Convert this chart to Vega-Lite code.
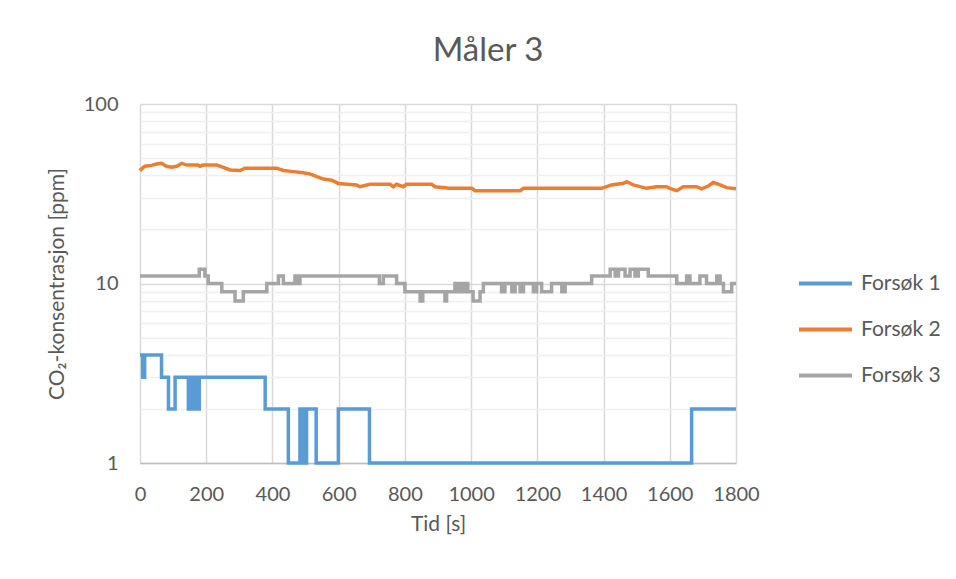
{
  "$schema": "https://vega.github.io/schema/vega-lite/v6.json",
  "width": 596,
  "height": 359,
  "autosize": {"type": "none"},
  "padding": {"left": 140, "top": 104, "right": 220, "bottom": 116},
  "background": "white",
  "title": {
    "text": "Måler 3",
    "font": "Lato",
    "fontSize": 33,
    "fontWeight": "normal",
    "color": "#595959",
    "anchor": "middle",
    "dx": 50,
    "offset": 26
  },
  "config": {
    "view": {"stroke": null},
    "font": "Lato"
  },
  "data": {
    "values": [
      {"t": 0, "ppm": 4, "serie": "Forsøk 1"},
      {"t": 8, "ppm": 3, "serie": "Forsøk 1"},
      {"t": 14, "ppm": 4, "serie": "Forsøk 1"},
      {"t": 65, "ppm": 3, "serie": "Forsøk 1"},
      {"t": 86, "ppm": 2, "serie": "Forsøk 1"},
      {"t": 106, "ppm": 3, "serie": "Forsøk 1"},
      {"t": 146, "ppm": 2, "serie": "Forsøk 1"},
      {"t": 150, "ppm": 3, "serie": "Forsøk 1"},
      {"t": 155, "ppm": 2, "serie": "Forsøk 1"},
      {"t": 160, "ppm": 3, "serie": "Forsøk 1"},
      {"t": 165, "ppm": 2, "serie": "Forsøk 1"},
      {"t": 170, "ppm": 3, "serie": "Forsøk 1"},
      {"t": 175, "ppm": 2, "serie": "Forsøk 1"},
      {"t": 179, "ppm": 3, "serie": "Forsøk 1"},
      {"t": 378, "ppm": 2, "serie": "Forsøk 1"},
      {"t": 448, "ppm": 1, "serie": "Forsøk 1"},
      {"t": 483, "ppm": 2, "serie": "Forsøk 1"},
      {"t": 487, "ppm": 1, "serie": "Forsøk 1"},
      {"t": 491, "ppm": 2, "serie": "Forsøk 1"},
      {"t": 497, "ppm": 1, "serie": "Forsøk 1"},
      {"t": 503, "ppm": 2, "serie": "Forsøk 1"},
      {"t": 532, "ppm": 1, "serie": "Forsøk 1"},
      {"t": 599, "ppm": 2, "serie": "Forsøk 1"},
      {"t": 693, "ppm": 1, "serie": "Forsøk 1"},
      {"t": 1666, "ppm": 2, "serie": "Forsøk 1"},
      {"t": 1800, "ppm": 2, "serie": "Forsøk 1"},

      {"t": 0, "ppm": 42.5, "serie": "Forsøk 2"},
      {"t": 5, "ppm": 43.5, "serie": "Forsøk 2"},
      {"t": 15, "ppm": 45, "serie": "Forsøk 2"},
      {"t": 35, "ppm": 45.5, "serie": "Forsøk 2"},
      {"t": 50, "ppm": 46.3, "serie": "Forsøk 2"},
      {"t": 65, "ppm": 46.7, "serie": "Forsøk 2"},
      {"t": 80, "ppm": 45, "serie": "Forsøk 2"},
      {"t": 96, "ppm": 44.4, "serie": "Forsøk 2"},
      {"t": 111, "ppm": 45, "serie": "Forsøk 2"},
      {"t": 126, "ppm": 46.7, "serie": "Forsøk 2"},
      {"t": 141, "ppm": 45.7, "serie": "Forsøk 2"},
      {"t": 175, "ppm": 45.7, "serie": "Forsøk 2"},
      {"t": 181, "ppm": 45, "serie": "Forsøk 2"},
      {"t": 190, "ppm": 45.7, "serie": "Forsøk 2"},
      {"t": 232, "ppm": 45.7, "serie": "Forsøk 2"},
      {"t": 252, "ppm": 44.4, "serie": "Forsøk 2"},
      {"t": 272, "ppm": 42.9, "serie": "Forsøk 2"},
      {"t": 302, "ppm": 42.6, "serie": "Forsøk 2"},
      {"t": 317, "ppm": 43.9, "serie": "Forsøk 2"},
      {"t": 413, "ppm": 43.9, "serie": "Forsøk 2"},
      {"t": 433, "ppm": 42.6, "serie": "Forsøk 2"},
      {"t": 463, "ppm": 42, "serie": "Forsøk 2"},
      {"t": 493, "ppm": 41.4, "serie": "Forsøk 2"},
      {"t": 513, "ppm": 40.8, "serie": "Forsøk 2"},
      {"t": 534, "ppm": 39.4, "serie": "Forsøk 2"},
      {"t": 554, "ppm": 38.2, "serie": "Forsøk 2"},
      {"t": 579, "ppm": 37.6, "serie": "Forsøk 2"},
      {"t": 599, "ppm": 36.1, "serie": "Forsøk 2"},
      {"t": 654, "ppm": 35.4, "serie": "Forsøk 2"},
      {"t": 664, "ppm": 34.6, "serie": "Forsøk 2"},
      {"t": 695, "ppm": 35.7, "serie": "Forsøk 2"},
      {"t": 755, "ppm": 35.7, "serie": "Forsøk 2"},
      {"t": 765, "ppm": 34.6, "serie": "Forsøk 2"},
      {"t": 775, "ppm": 35.7, "serie": "Forsøk 2"},
      {"t": 795, "ppm": 34.6, "serie": "Forsøk 2"},
      {"t": 805, "ppm": 35.7, "serie": "Forsøk 2"},
      {"t": 881, "ppm": 35.7, "serie": "Forsøk 2"},
      {"t": 891, "ppm": 34.6, "serie": "Forsøk 2"},
      {"t": 921, "ppm": 34.2, "serie": "Forsøk 2"},
      {"t": 931, "ppm": 33.9, "serie": "Forsøk 2"},
      {"t": 1002, "ppm": 33.9, "serie": "Forsøk 2"},
      {"t": 1012, "ppm": 32.9, "serie": "Forsøk 2"},
      {"t": 1148, "ppm": 32.9, "serie": "Forsøk 2"},
      {"t": 1158, "ppm": 33.9, "serie": "Forsøk 2"},
      {"t": 1394, "ppm": 33.9, "serie": "Forsøk 2"},
      {"t": 1424, "ppm": 35.4, "serie": "Forsøk 2"},
      {"t": 1460, "ppm": 36.2, "serie": "Forsøk 2"},
      {"t": 1470, "ppm": 36.9, "serie": "Forsøk 2"},
      {"t": 1490, "ppm": 35.4, "serie": "Forsøk 2"},
      {"t": 1530, "ppm": 33.9, "serie": "Forsøk 2"},
      {"t": 1560, "ppm": 34.6, "serie": "Forsøk 2"},
      {"t": 1590, "ppm": 34.6, "serie": "Forsøk 2"},
      {"t": 1600, "ppm": 33.9, "serie": "Forsøk 2"},
      {"t": 1621, "ppm": 32.9, "serie": "Forsøk 2"},
      {"t": 1641, "ppm": 34.6, "serie": "Forsøk 2"},
      {"t": 1681, "ppm": 34.6, "serie": "Forsøk 2"},
      {"t": 1696, "ppm": 33.7, "serie": "Forsøk 2"},
      {"t": 1716, "ppm": 34.9, "serie": "Forsøk 2"},
      {"t": 1731, "ppm": 36.5, "serie": "Forsøk 2"},
      {"t": 1752, "ppm": 35.4, "serie": "Forsøk 2"},
      {"t": 1772, "ppm": 34.2, "serie": "Forsøk 2"},
      {"t": 1800, "ppm": 33.7, "serie": "Forsøk 2"},

      {"t": 0, "ppm": 11, "serie": "Forsøk 3"},
      {"t": 179, "ppm": 12, "serie": "Forsøk 3"},
      {"t": 196, "ppm": 11, "serie": "Forsøk 3"},
      {"t": 206, "ppm": 10, "serie": "Forsøk 3"},
      {"t": 247, "ppm": 9, "serie": "Forsøk 3"},
      {"t": 287, "ppm": 8, "serie": "Forsøk 3"},
      {"t": 312, "ppm": 9, "serie": "Forsøk 3"},
      {"t": 383, "ppm": 10, "serie": "Forsøk 3"},
      {"t": 418, "ppm": 11, "serie": "Forsøk 3"},
      {"t": 433, "ppm": 10, "serie": "Forsøk 3"},
      {"t": 468, "ppm": 11, "serie": "Forsøk 3"},
      {"t": 473, "ppm": 10, "serie": "Forsøk 3"},
      {"t": 483, "ppm": 11, "serie": "Forsøk 3"},
      {"t": 723, "ppm": 10, "serie": "Forsøk 3"},
      {"t": 735, "ppm": 11, "serie": "Forsøk 3"},
      {"t": 775, "ppm": 10, "serie": "Forsøk 3"},
      {"t": 800, "ppm": 9, "serie": "Forsøk 3"},
      {"t": 846, "ppm": 8, "serie": "Forsøk 3"},
      {"t": 854, "ppm": 9, "serie": "Forsøk 3"},
      {"t": 921, "ppm": 8, "serie": "Forsøk 3"},
      {"t": 926, "ppm": 9, "serie": "Forsøk 3"},
      {"t": 951, "ppm": 10, "serie": "Forsøk 3"},
      {"t": 960, "ppm": 9, "serie": "Forsøk 3"},
      {"t": 966, "ppm": 10, "serie": "Forsøk 3"},
      {"t": 975, "ppm": 9, "serie": "Forsøk 3"},
      {"t": 980, "ppm": 10, "serie": "Forsøk 3"},
      {"t": 990, "ppm": 9, "serie": "Forsøk 3"},
      {"t": 1006, "ppm": 8, "serie": "Forsøk 3"},
      {"t": 1027, "ppm": 9, "serie": "Forsøk 3"},
      {"t": 1037, "ppm": 10, "serie": "Forsøk 3"},
      {"t": 1092, "ppm": 9, "serie": "Forsøk 3"},
      {"t": 1102, "ppm": 10, "serie": "Forsøk 3"},
      {"t": 1123, "ppm": 9, "serie": "Forsøk 3"},
      {"t": 1133, "ppm": 10, "serie": "Forsøk 3"},
      {"t": 1148, "ppm": 9, "serie": "Forsøk 3"},
      {"t": 1158, "ppm": 10, "serie": "Forsøk 3"},
      {"t": 1188, "ppm": 9, "serie": "Forsøk 3"},
      {"t": 1198, "ppm": 10, "serie": "Forsøk 3"},
      {"t": 1213, "ppm": 9, "serie": "Forsøk 3"},
      {"t": 1243, "ppm": 10, "serie": "Forsøk 3"},
      {"t": 1274, "ppm": 9, "serie": "Forsøk 3"},
      {"t": 1284, "ppm": 10, "serie": "Forsøk 3"},
      {"t": 1364, "ppm": 11, "serie": "Forsøk 3"},
      {"t": 1420, "ppm": 12, "serie": "Forsøk 3"},
      {"t": 1435, "ppm": 11, "serie": "Forsøk 3"},
      {"t": 1445, "ppm": 12, "serie": "Forsøk 3"},
      {"t": 1465, "ppm": 11, "serie": "Forsøk 3"},
      {"t": 1480, "ppm": 12, "serie": "Forsøk 3"},
      {"t": 1495, "ppm": 11, "serie": "Forsøk 3"},
      {"t": 1505, "ppm": 12, "serie": "Forsøk 3"},
      {"t": 1535, "ppm": 11, "serie": "Forsøk 3"},
      {"t": 1621, "ppm": 10, "serie": "Forsøk 3"},
      {"t": 1651, "ppm": 11, "serie": "Forsøk 3"},
      {"t": 1661, "ppm": 10, "serie": "Forsøk 3"},
      {"t": 1691, "ppm": 11, "serie": "Forsøk 3"},
      {"t": 1711, "ppm": 10, "serie": "Forsøk 3"},
      {"t": 1742, "ppm": 11, "serie": "Forsøk 3"},
      {"t": 1752, "ppm": 10, "serie": "Forsøk 3"},
      {"t": 1762, "ppm": 9, "serie": "Forsøk 3"},
      {"t": 1787, "ppm": 10, "serie": "Forsøk 3"},
      {"t": 1800, "ppm": 10, "serie": "Forsøk 3"}
    ]
  },
  "encoding": {
    "x": {
      "field": "t",
      "type": "quantitative",
      "scale": {"domain": [0, 1800], "nice": false, "zero": false},
      "axis": {
        "title": "Tid [s]",
        "values": [0, 200, 400, 600, 800, 1000, 1200, 1400, 1600, 1800],
        "format": "d",
        "labelFlush": false,
        "labelOverlap": false,
        "labelBound": false,
        "grid": true,
        "gridColor": "#d9d9d9",
        "gridWidth": 1.5,
        "domain": true,
        "domainColor": "#bfbfbf",
        "domainWidth": 1.5,
        "ticks": false,
        "labelPadding": 21,
        "labelFontSize": 20,
        "labelColor": "#595959",
        "titleFontSize": 21,
        "titleFontWeight": "normal",
        "titleColor": "#595959",
        "titlePadding": 9
      }
    },
    "y": {
      "field": "ppm",
      "type": "quantitative",
      "scale": {"type": "log", "domain": [1, 100], "nice": false},
      "axis": {
        "title": "CO₂-konsentrasjon [ppm]",
        "values": [1, 2, 3, 4, 5, 6, 7, 8, 9, 10, 20, 30, 40, 50, 60, 70, 80, 90, 100],
        "format": "d",
        "labelExpr": "datum.value === 1 || datum.value === 10 || datum.value === 100 ? datum.label : ''",
        "labelOverlap": false,
        "grid": true,
        "gridColor": {
          "condition": {"test": "datum.value === 1 || datum.value === 10 || datum.value === 100", "value": "#d9d9d9"},
          "value": "#efefef"
        },
        "gridWidth": 1.5,
        "domain": false,
        "ticks": false,
        "labelPadding": 22,
        "labelFontSize": 20,
        "labelColor": "#595959",
        "titleFontSize": 21,
        "titleFontWeight": "normal",
        "titleColor": "#595959",
        "titlePadding": 16
      }
    },
    "color": {
      "field": "serie",
      "type": "nominal",
      "scale": {
        "domain": ["Forsøk 1", "Forsøk 2", "Forsøk 3"],
        "range": ["#5b9bd5", "#ed7d31", "#a5a5a5"]
      },
      "legend": {
        "title": null,
        "orient": "none",
        "legendX": 657,
        "legendY": 151,
        "symbolType": "stroke",
        "symbolSize": 2809,
        "symbolStrokeWidth": 4,
        "labelFontSize": 21,
        "labelColor": "#595959",
        "labelOffset": 7,
        "rowPadding": 7
      }
    }
  },
  "layer": [
    {
      "transform": [{"filter": "datum.serie !== 'Forsøk 2'"}],
      "mark": {"type": "line", "interpolate": "step-after", "strokeWidth": 3.5}
    },
    {
      "transform": [{"filter": "datum.serie === 'Forsøk 2'"}],
      "mark": {"type": "line", "interpolate": "linear", "strokeWidth": 3.5}
    }
  ]
}
